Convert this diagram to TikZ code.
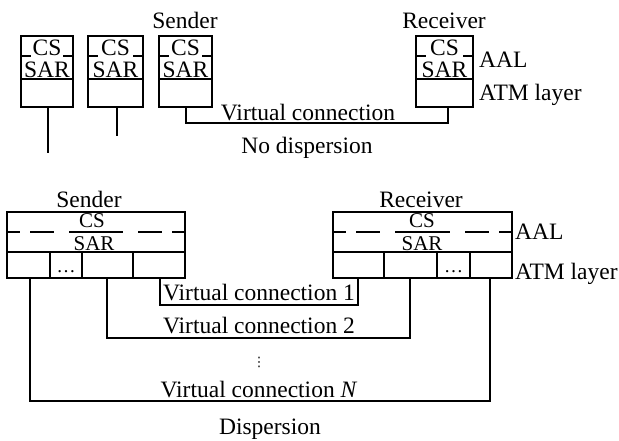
\documentclass[tikz,border=0pt]{standalone}
\usepackage{fontspec}
\setmainfont{Liberation Serif}
\newfontfamily\dejavu{DejaVu Sans}
\usetikzlibrary{calc}
\begin{document}
\begin{tikzpicture}[x=1pt,y=-1pt,
  ln/.style={line width=1.3pt, line cap=rect},
  txt/.style={inner sep=0pt, anchor=base, font=\fontsize{23.5}{27}\selectfont},
  ltxt/.style={txt, anchor=base west},
  captxt/.style={txt, text height=15.5pt, text depth=0pt},
  btxt/.style={inner sep=0pt, anchor=base, font=\fontsize{21}{23}\selectfont},
  small/.style={inner sep=0pt, font=\fontsize{19}{20}\selectfont}]
\useasboundingbox (0,0) rectangle (619,440);

% ---------- top: no dispersion ----------
\foreach \L/\R/\n in {21/73/ta, 88/143/tb, 159/212/tc, 416/473/tr}{
  \draw[ln] (\L,36) rectangle (\R,107);
  \draw[ln] (\L,79) -- (\R,79);
  \draw[ln] (\L,56) -- ({\L+9},56);
  \draw[ln] ({\R-9},56) -- (\R,56);
  \node[captxt] (\n cs) at ({(\L+\R)/2},55) {CS};
  \node[captxt] (\n sar) at ({(\L+\R)/2},77) {SAR};
  \coordinate (\n bot) at ({(\L+\R)/2},107);
}
\node[txt] (tsend) at (185,28) {Sender};
\node[txt] (trecv) at (444,28) {Receiver};
\node[ltxt] (taal) at (479,67) {AAL};
\node[ltxt] (tatm) at (479,100) {ATM layer};

\coordinate (a0) at (48,107);  \coordinate (a1) at (48,152);
\coordinate (b0) at (117,107); \coordinate (b1) at (117,135);
\coordinate (c0) at (186,107); \coordinate (r0) at (448,107);
\draw[ln] (a0) -- (a1);
\draw[ln] (b0) -- (b1);
\draw[ln] (c0) |- ($(r0)+(0,16)$) -- (r0);
\node[txt] (tvc) at (308,120) {Virtual connection};
\node[txt] (tnod) at (307,153) {No dispersion};

% ---------- bottom: dispersion ----------
% sender
\draw[ln] (7,212) rectangle (185,278);
\draw[ln] (7,252) -- (185,252);
\foreach \x in {50,82,133} \draw[ln] (\x,252) -- (\x,278);
\foreach \a/\b in {0/12, 24/46, 63/115, 132/154, 166/178}
  \draw[ln] ({7+\a},232) -- ({7+\b},232);
\node[btxt] (scs) at (92,227.5) {CS};
\node[btxt] (ssar) at (94,250.5) {SAR};
\node[small, anchor=base] (sdots) at (66,272) {\ldots};
\node[txt] (bsend) at (89,207) {Sender};

% receiver
\draw[ln] (333,212) rectangle (512,278);
\draw[ln] (333,252) -- (512,252);
\foreach \x in {384,437,470} \draw[ln] (\x,252) -- (\x,278);
\foreach \a/\b in {0/12, 24/46, 63/116, 133/155, 167/179}
  \draw[ln] ({333+\a},232) -- ({333+\b},232);
\node[btxt] (rcs) at (422,227.5) {CS};
\node[btxt] (rsar) at (422,250.5) {SAR};
\node[small, anchor=base] (rdots) at (453.5,272) {\ldots};
\node[txt] (brecv) at (421,207) {Receiver};
\node[ltxt] (baal) at (515,239) {AAL};
\node[ltxt] (batm) at (515,279) {ATM layer};

% connections
\coordinate (s1) at (160,278); \coordinate (e1) at (358,278);
\coordinate (s2) at (107,278); \coordinate (e2) at (410,278);
\coordinate (sN) at (30,278);  \coordinate (eN) at (490,278);
\draw[ln] (s1) |- ($(e1)+(0,27)$) -- (e1);
\draw[ln] (s2) |- ($(e2)+(0,60)$) -- (e2);
\draw[ln] (sN) |- ($(eN)+(0,123)$) -- (eN);
\node[txt] (vc1) at (259,300) {Virtual connection 1};
\node[txt] (vc2) at (259,333) {Virtual connection 2};
\node[inner sep=0pt, font=\dejavu\fontsize{13}{14}\selectfont] (vdots) at (259,362) {⋮};
\node[txt] (vcN) at (259,397) {Virtual connection \textit{N}};
\node[txt] (disp) at (270,434) {Dispersion};
\end{tikzpicture}
\end{document}
